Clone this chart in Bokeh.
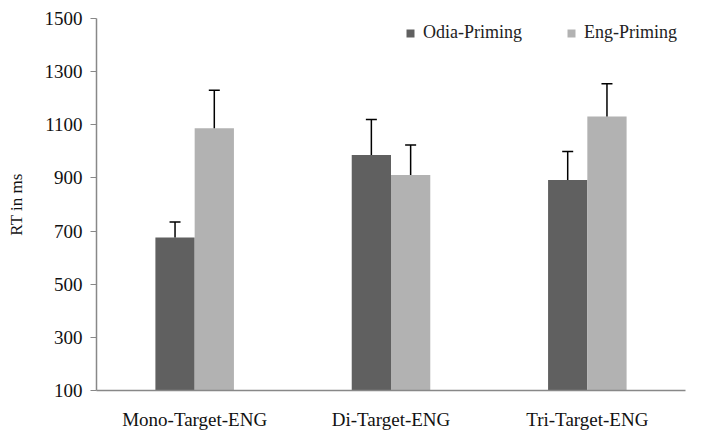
from bokeh.plotting import figure
from bokeh.models import ColumnDataSource, FactorRange, Legend, LegendItem, Range1d, FixedTicker
from bokeh.transform import dodge
from bokeh.embed import file_html
from bokeh.resources import INLINE

# Mean reaction times (ms) and their standard errors per target type
categories = ["Mono-Target-ENG", "Di-Target-ENG", "Tri-Target-ENG"]
odia_rt = [676, 986, 892]
odia_err = [58, 134, 107]
eng_rt = [1087, 911, 1131]
eng_err = [143, 113, 123]
y_ticks = [100, 300, 500, 700, 900, 1100, 1300, 1500]

DARK = "#606060"
LIGHT = "#b2b2b2"
FONT = "Liberation Serif"

src = ColumnDataSource(dict(
    cat=categories,
    odia=odia_rt,
    odia_top=[v + e for v, e in zip(odia_rt, odia_err)],
    eng=eng_rt,
    eng_top=[v + e for v, e in zip(eng_rt, eng_err)],
))

p = figure(
    x_range=FactorRange(*categories, range_padding=0),
    y_range=Range1d(100, 1500),
    width=706, height=432,
    output_backend="svg", toolbar_location=None,
    min_border_left=96, min_border_right=21,
    min_border_top=18, min_border_bottom=39,
)

bw = 0.2
r_odia = p.vbar(x=dodge("cat", -bw / 2, range=p.x_range), top="odia", bottom=100,
                width=bw, source=src, fill_color=DARK, line_color=None)
r_eng = p.vbar(x=dodge("cat", bw / 2, range=p.x_range), top="eng", bottom=100,
               width=bw, source=src, fill_color=LIGHT, line_color=None)

# upper error bars with caps
for off, lo, hi in [(-bw / 2, "odia", "odia_top"), (bw / 2, "eng", "eng_top")]:
    xs = dodge("cat", off, range=p.x_range)
    p.segment(x0=xs, y0=lo, x1=xs, y1=hi, source=src, line_color="black", line_width=1.5)
    p.scatter(x=xs, y=hi, source=src, marker="dash", size=11, line_color="black", line_width=1.5)

legend = Legend(
    items=[LegendItem(label="Odia-Priming", renderers=[r_odia]),
           LegendItem(label="Eng-Priming", renderers=[r_eng])],
    orientation="horizontal", location=(309, 347),
    padding=0, margin=0, spacing=44, border_line_color=None,
    background_fill_alpha=0,
    glyph_width=10, glyph_height=10, label_standoff=8, label_height=16,
    label_text_font=FONT, label_text_font_size="18px", label_text_color="#222222",
)
p.add_layout(legend, "center")

p.grid.grid_line_color = None
p.outline_line_color = None
p.background_fill_color = "white"

p.yaxis.ticker = FixedTicker(ticks=y_ticks)
p.yaxis.minor_tick_line_color = None
p.yaxis.major_tick_out = 6
p.yaxis.major_tick_in = 0
p.yaxis.major_label_standoff = 8
p.yaxis.axis_line_color = "#888888"
p.yaxis.major_tick_line_color = "#888888"
p.yaxis.axis_label = "RT in ms"
p.yaxis.axis_label_text_font = FONT
p.yaxis.axis_label_text_font_style = "normal"
p.yaxis.axis_label_text_font_size = "17px"
p.yaxis.axis_label_text_color = "#111111"
p.yaxis.axis_label_standoff = 16

p.xaxis.major_tick_line_color = None
p.xaxis.minor_tick_line_color = None
p.xaxis.major_tick_out = 0
p.xaxis.axis_line_color = "#888888"
p.xaxis.major_label_standoff = 18

for ax in (p.xaxis, p.yaxis):
    ax.major_label_text_font = FONT
    ax.major_label_text_font_size = "19px"
    ax.major_label_text_color = "#111111"
    ax.axis_line_width = 1.5

open("out.html", "w").write(file_html(p, INLINE))
